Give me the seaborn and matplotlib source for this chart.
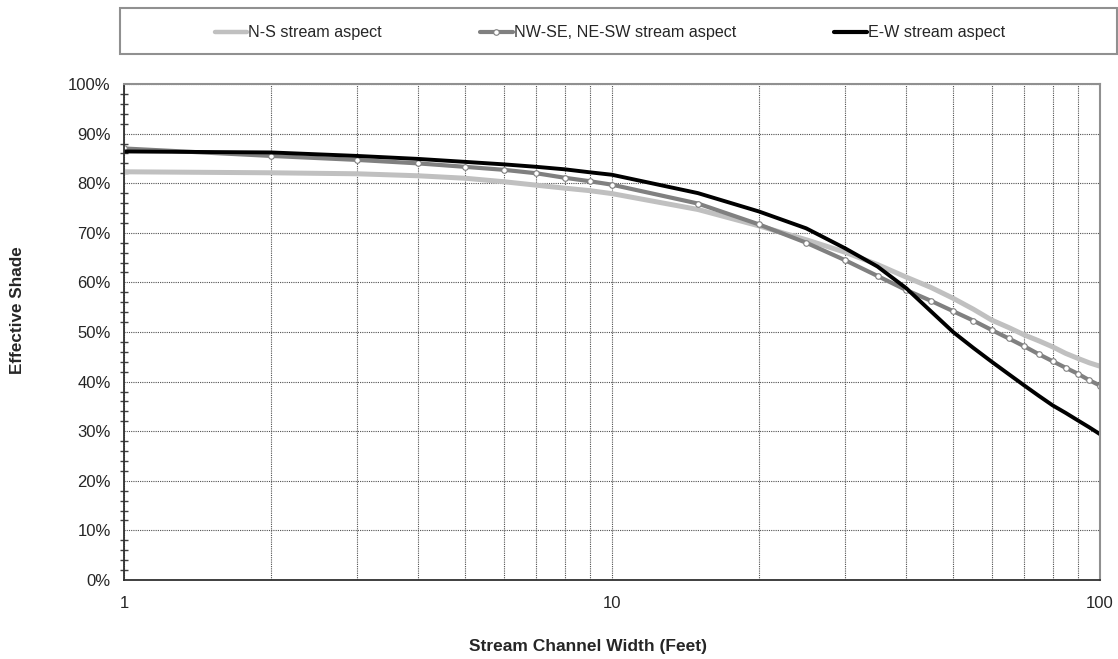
import pandas as pd
import numpy as np
import matplotlib
matplotlib.use('Agg')
import matplotlib.pyplot as plt
import seaborn as sns
from matplotlib.ticker import PercentFormatter, FixedLocator, MultipleLocator, NullFormatter
from matplotlib.patches import Rectangle
from matplotlib.lines import Line2D

# Larguras do canal (pés)
largura = [1, 2, 3, 4, 5, 6, 7, 8, 9, 10, 15, 20, 25, 30, 35, 40, 45, 50,
           55, 60, 65, 70, 75, 80, 85, 90, 95, 100]

# Sombra efetiva (%) por orientação do curso d'água
sombra_ns = [82.3, 82.1, 81.9, 81.5, 81.0, 80.3, 79.6, 79.0, 78.5, 77.9, 74.7, 71.4, 68.6, 66.1,
             63.6, 61.1, 59.0, 56.8, 54.6, 52.4, 50.9, 49.4, 48.2, 47.0, 45.7, 44.7, 43.8, 43.1]
sombra_nwse = [87.0, 85.5, 84.7, 84.0, 83.3, 82.7, 82.0, 81.1, 80.4, 79.7, 75.9, 71.7, 68.0, 64.5,
               61.3, 58.5, 56.3, 54.2, 52.3, 50.4, 48.7, 47.1, 45.5, 44.1, 42.8, 41.6, 40.3, 39.2]
sombra_ew = [86.4, 86.2, 85.5, 84.9, 84.3, 83.8, 83.3, 82.8, 82.2, 81.7, 78.0, 74.3, 70.9, 66.9,
             63.2, 58.9, 54.2, 50.0, 46.8, 44.0, 41.5, 39.2, 37.1, 35.2, 33.7, 32.2, 30.8, 29.4]

rotulos = ['N-S stream aspect', 'NW-SE, NE-SW stream aspect', 'E-W stream aspect']

df = pd.DataFrame({
    'Largura': largura * 3,
    'Sombra': sombra_ns + sombra_nwse + sombra_ew,
    'Serie': [rotulos[0]] * len(largura) + [rotulos[1]] * len(largura) + [rotulos[2]] * len(largura),
})

sns.set_style('white')
plt.rcParams['font.family'] = ['Liberation Sans', 'DejaVu Sans']

fig = plt.figure(figsize=(11.18, 6.59), dpi=100)
ax = fig.add_axes([124 / 1118, 1 - 580 / 659, (1100 - 124) / 1118, (580 - 84) / 659])

estilos = {
    rotulos[0]: dict(color='#c0c0c0', linewidth=3.6),
    rotulos[1]: dict(color='#808080', linewidth=3.0, marker='o', markersize=4,
                     markerfacecolor='white', markeredgecolor='#808080', markeredgewidth=0.8),
    rotulos[2]: dict(color='black', linewidth=2.8),
}

for serie in rotulos:
    dados = df[df['Serie'] == serie]
    sns.lineplot(data=dados, x='Largura', y='Sombra', ax=ax, legend=False, **estilos[serie])

ax.set_xscale('log')
ax.set_xlim(1, 100)
ax.set_ylim(0, 100)

# Eixo X
ax.xaxis.set_major_locator(FixedLocator([1, 10, 100]))
ax.set_xticklabels(['1', '10', '100'])
ax.xaxis.set_minor_locator(FixedLocator([2, 3, 4, 5, 6, 7, 8, 9, 20, 30, 40, 50, 60, 70, 80, 90]))
ax.xaxis.set_minor_formatter(NullFormatter())

# Eixo Y
ax.yaxis.set_major_locator(MultipleLocator(10))
ax.yaxis.set_minor_locator(MultipleLocator(2))
ax.yaxis.set_major_formatter(PercentFormatter(100, decimals=0))

ax.tick_params(axis='both', which='major', labelsize=12, length=7, width=1,
               direction='inout', color='#404040', pad=6)
ax.tick_params(axis='y', which='minor', length=6, width=1, direction='inout', color='#404040', left=True)
ax.tick_params(axis='x', which='minor', length=0)
ax.tick_params(axis='x', which='major', pad=8)

# Grade pontilhada
ax.grid(True, which='major', axis='both', linestyle=(0, (1, 1)), color='#505050', linewidth=0.8)
ax.grid(True, which='minor', axis='x', linestyle=(0, (1, 1)), color='#505050', linewidth=0.8)
ax.set_axisbelow(True)

for lado in ['left', 'bottom']:
    ax.spines[lado].set_color('#303030')
    ax.spines[lado].set_linewidth(1.3)
for lado in ['top', 'right']:
    ax.spines[lado].set_color('#909090')
    ax.spines[lado].set_linewidth(1.5)

ax.set_xlabel('')
ax.set_ylabel('')
fig.text(18 / 1118, 1 - 310 / 659, 'Effective Shade', rotation=90, ha='center', va='center',
         fontsize=12.3, fontweight='bold')
fig.text(588 / 1118, 1 - 646 / 659, 'Stream Channel Width (Feet)', ha='center', va='center',
         fontsize=12.5, fontweight='bold')

# Legenda em caixa no topo
fig.patches.append(Rectangle((120 / 1118, 1 - 54 / 659), (1117 - 120) / 1118, 46 / 659,
                             transform=fig.transFigure, fill=False, edgecolor='#909090',
                             linewidth=1.5))
alcas = [Line2D([], [], color='#c0c0c0', linewidth=3.2),
         Line2D([], [], color='#808080', linewidth=3.0, marker='o', markersize=4,
                markerfacecolor='white', markeredgecolor='#808080', markeredgewidth=0.8),
         Line2D([], [], color='black', linewidth=3.0)]
leg = fig.legend(alcas, rotulos, loc='center', bbox_to_anchor=(610 / 1118, 1 - 33 / 659),
                 ncol=3, frameon=False, handlelength=2.0, handletextpad=0.08,
                 columnspacing=6.1, numpoints=1, fontsize=11.6)

plt.savefig('out.png', dpi=100)
plt.close()
